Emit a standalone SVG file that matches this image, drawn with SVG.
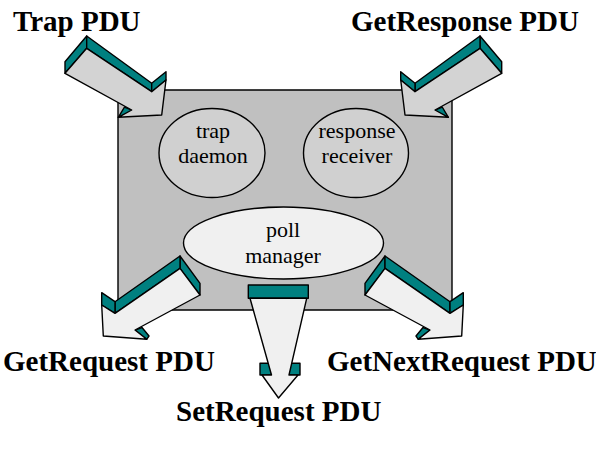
<svg xmlns="http://www.w3.org/2000/svg" width="596" height="466" viewBox="0 0 596 466">
<style>
.ln{stroke:#000;stroke-width:1.4;stroke-linejoin:round}
.teal{fill:#008080}
.fa{fill:#d3d3d3}
.fb{fill:#f0f0f0}
.lbl{font-family:"Liberation Serif","Times New Roman",serif;font-weight:bold;font-size:29px;fill:#000}
.nt{font-family:"Liberation Serif","Times New Roman",serif;font-size:22px;fill:#000;text-anchor:middle}
</style>
<rect width="596" height="466" fill="#fff"/>
<g id="manager-box">
<rect class="ln" x="118" y="90" width="334" height="220" rx="5" fill="#c0c0c0"/>
</g>
<g id="trap-daemon">
<ellipse class="ln" cx="212" cy="153" rx="53" ry="44.5" fill="#d0d0d0"/>
<text class="nt" x="213" y="137.5">trap</text>
<text class="nt" x="213" y="163">daemon</text>
</g>
<g id="response-receiver">
<ellipse class="ln" cx="356" cy="153" rx="52.5" ry="44.5" fill="#d0d0d0"/>
<text class="nt" x="357" y="137.5">response</text>
<text class="nt" x="357" y="163">receiver</text>
</g>
<g id="poll-manager">
<ellipse class="ln" cx="283.5" cy="243" rx="100" ry="36" fill="#f0f0f0"/>
<text class="nt" x="283" y="237">poll</text>
<text class="nt" x="283" y="262.5">manager</text>
</g>
<g id="connectors">
<g id="arrow-trap">
<polygon class="ln teal" points="65,61.7 86.7,36 86.7,48.3 65,73.3"/>
<polygon class="ln teal" points="86.7,36 151.7,83.3 151.7,91.7 86.7,48.3"/>
<polygon class="ln teal" points="151.7,83.3 166,71.7 166,80 151.7,91.7"/>
<polygon class="ln teal" points="118.3,117.3 124.5,107 133,110.5"/>
<polygon class="ln fa" points="86.7,48.3 151.7,91.7 166,80 161.7,115 118.3,117.3 131.7,110 65,73.3"/>
</g>
<g id="arrow-getresponse">
<polygon class="ln teal" points="501.7,61.7 480,36 480,48.3 501.7,73.3"/>
<polygon class="ln teal" points="480,36 415,83.3 415,91.7 480,48.3"/>
<polygon class="ln teal" points="415,83.3 400.7,71.7 400.7,80 415,91.7"/>
<polygon class="ln teal" points="448.4,117.3 442.2,107 433.7,110.5"/>
<polygon class="ln fa" points="480,48.3 415,91.7 400.7,80 405,115 448.4,117.3 435,110 501.7,73.3"/>
</g>
<g id="arrow-getrequest">
<polygon class="ln teal" points="180,256 200,283.3 200,295 180,268.3"/>
<polygon class="ln teal" points="115,301.7 180,256 180,268.3 115,313.3"/>
<polygon class="ln teal" points="101.7,292.7 115,301.7 115,313.3 101.7,305"/>
<polygon class="ln teal" points="135,330 142,327.5 149,336 146.7,339.3"/>
<polygon class="ln fb" points="180,268.3 200,295 135,330 146.7,339.3 103.3,336 101.7,305 115,313.3"/>
</g>
<g id="arrow-getnextrequest">
<polygon class="ln teal" points="385,256 365,283.3 365,295 385,268.3"/>
<polygon class="ln teal" points="450,301.7 385,256 385,268.3 450,313.3"/>
<polygon class="ln teal" points="463.3,292.7 450,301.7 450,313.3 463.3,305"/>
<polygon class="ln teal" points="430,330 423,327.5 416,336 418.3,339.3"/>
<polygon class="ln fb" points="385,268.3 365,295 430,330 418.3,339.3 461.7,336 463.3,305 450,313.3"/>
</g>
<g id="arrow-setrequest">
<rect class="ln teal" x="248.3" y="285" width="60" height="13.3"/>
<polygon class="ln teal" points="260,363.3 270,363.3 271.7,375 260,375"/>
<polygon class="ln teal" points="288,363.3 300,363.3 300,375 289,375"/>
<polygon class="ln fb" points="250,298.3 306.7,298.3 289,375 298,375 278.5,398 262,375 271.5,375"/>
</g>
</g>
<g id="labels">
<text class="lbl" x="13" y="31">Trap PDU</text>
<text class="lbl" x="351" y="31">GetResponse PDU</text>
<text class="lbl" x="3" y="371">GetRequest PDU</text>
<text class="lbl" x="327" y="371">GetNextRequest PDU</text>
<text class="lbl" x="176" y="421">SetRequest PDU</text>
</g>
</svg>
